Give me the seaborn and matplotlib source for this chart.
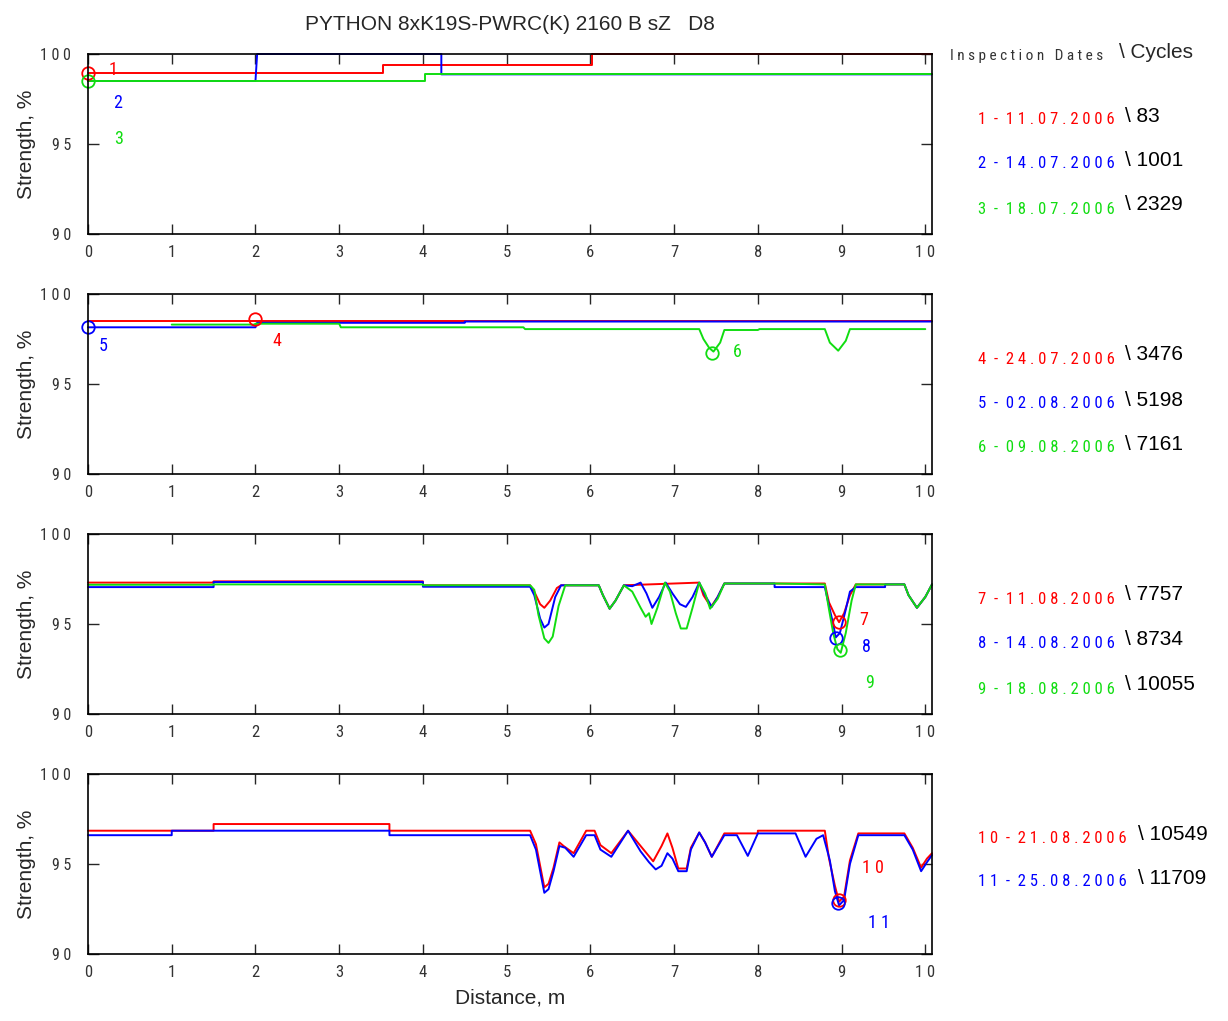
import seaborn as sns
import matplotlib.pyplot as plt
from matplotlib import font_manager

sns.set_style('white')
plt.rcParams['font.family'] = ['Liberation Sans', 'DejaVu Sans']

RED, BLUE, GREEN = '#ff0000', '#0000ff', '#11dd11'

# pick a narrow face for the spaced-out labels, if one is installed
_fonts = font_manager.fontManager.ttflist
_names = {f.name for f in _fonts}
NARROW, STRETCH, SEP = 'Liberation Sans', 'normal', '\u2009'
for cand in ['Liberation Sans Narrow', 'Roboto Condensed', 'Open Sans Condensed', 'Noto Sans Condensed']:
    if cand in _names:
        NARROW, STRETCH, SEP = cand, 'normal', ' '
        break
else:
    if any(f.name == 'DejaVu Sans' and 'condensed' in str(f.stretch) for f in _fonts):
        NARROW, STRETCH, SEP = 'DejaVu Sans', 'condensed', ' '
NARROW_FAM = [NARROW, 'DejaVu Sans']


def spaced(s):
    return SEP.join(s)


# ---- panel 1 ----
p1_red_x = [0, 3.52, 3.52, 6.02, 6.02, 10.08]
p1_red_y = [98.95, 98.95, 99.4, 99.4, 100, 100]
p1_blue_x = [0, 2.0, 2.02, 4.22, 4.22, 10.08]
p1_blue_y = [98.5, 98.5, 100, 100, 98.87, 98.87]
p1_green_x = [0, 4.02, 4.02, 10.08]
p1_green_y = [98.5, 98.5, 98.87, 98.87]

# ---- panel 2 ----
p2_red_x = [0, 10.08]
p2_red_y = [98.5, 98.5]
p2_blue_x = [0, 2.0, 2.02, 4.5, 4.5, 10.08]
p2_blue_y = [98.15, 98.15, 98.4, 98.4, 98.47, 98.47]
p2_green_x = [1.0, 2.0, 2.0, 3.0, 3.02, 5.2, 5.22, 7.3, 7.35, 7.42, 7.47, 7.55, 7.6,
              8.0, 8.02, 8.8, 8.86, 8.96, 9.05, 9.1, 10.0]
p2_green_y = [98.3, 98.3, 98.35, 98.35, 98.15, 98.15, 98.05, 98.05, 97.5, 97.0, 96.8, 97.3, 98.0,
              98.0, 98.05, 98.05, 97.3, 96.85, 97.4, 98.05, 98.05]

# ---- panel 3 ----
p3_red_x = [0, 1.5, 1.5, 4.0, 4.0, 5.28, 5.33, 5.4, 5.45, 5.52, 5.6, 5.65, 6.1, 6.15, 6.23, 6.3, 6.4,
            7.3, 7.35, 7.44, 7.52, 7.6, 8.8, 8.85, 8.92, 8.97, 9.03, 9.1, 9.17, 9.75, 9.8, 9.9, 10.0, 10.08]
p3_red_y = [97.3, 97.3, 97.37, 97.37, 97.15, 97.15, 96.8, 96.1, 95.9, 96.3, 97.0, 97.15, 97.15, 96.6, 95.85, 96.3, 97.15,
            97.3, 96.6, 95.95, 96.5, 97.25, 97.25, 96.2, 95.5, 95.1, 95.6, 96.6, 97.2, 97.2, 96.6, 95.9, 96.5, 97.2]
p3_blue_x = [0, 1.5, 1.5, 4.0, 4.0, 5.28, 5.33, 5.4, 5.45, 5.5, 5.58, 5.65, 6.1, 6.15, 6.23, 6.3, 6.4,
             6.5, 6.6, 6.67, 6.74, 6.82, 6.9, 6.98, 7.07, 7.14, 7.22, 7.3, 7.37, 7.45, 7.52, 7.6, 8.2, 8.2,
             8.8, 8.85, 8.9, 8.93, 8.98, 9.05, 9.1, 9.17, 9.52, 9.52, 9.75, 9.8, 9.9, 10.0, 10.08]
p3_blue_y = [97.05, 97.05, 97.33, 97.33, 97.07, 97.07, 96.6, 95.3, 94.8, 95.0, 96.5, 97.15, 97.15, 96.6, 95.85, 96.3, 97.15,
             97.1, 97.3, 96.7, 95.9, 96.5, 97.3, 96.7, 96.1, 95.95, 96.5, 97.3, 96.6, 95.95, 96.5, 97.25, 97.25, 97.05,
             97.05, 96.0, 95.0, 94.25, 94.5, 95.8, 96.8, 97.05, 97.05, 97.2, 97.2, 96.6, 95.9, 96.5, 97.2]
p3_green_x = [0, 1.5, 1.5, 4.0, 4.0, 5.28, 5.33, 5.38, 5.45, 5.5, 5.55, 5.62, 5.7, 6.1, 6.15, 6.23, 6.3, 6.4,
              6.5, 6.6, 6.66, 6.7, 6.73, 6.8, 6.89, 6.95, 7.02, 7.08, 7.15, 7.22, 7.3, 7.37, 7.43, 7.52, 7.6,
              8.2, 8.8, 8.85, 8.9, 8.95, 8.99, 9.05, 9.12, 9.17, 9.75, 9.8, 9.9, 10.0, 10.08]
p3_green_y = [97.18, 97.18, 97.2, 97.2, 97.15, 97.15, 96.9, 95.5, 94.2, 93.95, 94.3, 96.0, 97.15, 97.15, 96.6, 95.85, 96.3, 97.15,
              96.8, 95.9, 95.4, 95.6, 95.0, 95.9, 97.3, 96.8, 95.6, 94.75, 94.75, 95.9, 97.3, 96.7, 95.85, 96.4, 97.25,
              97.25, 97.2, 95.8, 94.5, 93.6, 93.4, 94.5, 96.3, 97.2, 97.2, 96.6, 95.9, 96.5, 97.2]

# ---- panel 4 ----
p4_red_x = [0, 1.5, 1.5, 3.6, 3.6, 5.28, 5.35, 5.45, 5.5, 5.56, 5.63, 5.68, 5.8, 5.95, 6.05, 6.12, 6.25,
            6.45, 6.6, 6.75, 6.85, 6.92, 6.98, 7.05, 7.15, 7.2, 7.3, 7.37, 7.45, 7.6, 8.0, 8.0, 8.8, 8.85,
            8.92, 8.97, 9.03, 9.1, 9.2, 9.75, 9.85, 9.95, 10.02, 10.08]
p4_red_y = [96.85, 96.85, 97.22, 97.22, 96.85, 96.85, 96.1, 93.7, 93.9, 94.8, 96.2, 96.0, 95.6, 96.85, 96.85, 96.05, 95.6,
            96.85, 96.0, 95.15, 96.0, 96.7, 95.9, 94.75, 94.75, 95.9, 96.75, 96.2, 95.4, 96.7, 96.7, 96.85, 96.85, 95.3,
            93.8, 92.9, 93.2, 95.2, 96.7, 96.7, 95.9, 94.8, 95.3, 95.6]
p4_blue_x = [0, 1.0, 1.0, 3.6, 3.6, 5.28, 5.35, 5.45, 5.5, 5.56, 5.63, 5.7, 5.8, 5.95, 6.05, 6.12, 6.25,
             6.45, 6.6, 6.7, 6.78, 6.85, 6.92, 6.98, 7.05, 7.15, 7.2, 7.3, 7.37, 7.45, 7.6, 7.75, 7.88, 8.0,
             8.45, 8.57, 8.7, 8.78, 8.86, 8.92, 8.97, 9.03, 9.1, 9.2, 9.75, 9.85, 9.95, 10.02, 10.08]
p4_blue_y = [96.6, 96.6, 96.85, 96.85, 96.6, 96.6, 95.8, 93.4, 93.6, 94.6, 96.0, 95.9, 95.4, 96.6, 96.6, 95.8, 95.4,
             96.85, 95.7, 95.1, 94.7, 94.9, 95.6, 95.3, 94.6, 94.6, 95.8, 96.75, 96.2, 95.4, 96.6, 96.6, 95.45, 96.7,
             96.7, 95.4, 96.4, 96.6, 95.2, 93.5, 92.7, 93.0, 95.0, 96.6, 96.6, 95.8, 94.6, 95.1, 95.5]

# circle markers and number labels per panel
circles = [
    [(0, 98.95, RED), (0, 98.5, GREEN)],
    [(2.0, 98.6, RED), (0, 98.15, BLUE), (7.45, 96.75, GREEN)],
    [(8.97, 95.1, RED), (8.93, 94.25, BLUE), (8.98, 93.55, GREEN)],
    [(8.97, 93.0, RED), (8.96, 92.85, BLUE)],
]
numbers = [
    [(0.3, 99.1, '1', RED), (0.35, 97.3, '2', BLUE), (0.37, 95.3, '3', GREEN)],
    [(0.18, 97.1, '5', BLUE), (2.25, 97.4, '4', RED), (7.75, 96.8, '6', GREEN)],
    [(9.27, 95.2, '7', RED), (9.3, 93.7, '8', BLUE), (9.33, 91.7, '9', GREEN)],
    [(9.37, 94.8, '10', RED), (9.45, 91.7, '11', BLUE)],
]

insp_ids = [['1', '2', '3'], ['4', '5', '6'], ['7', '8', '9'], ['10', '11']]
insp_dates = [['11.07.2006', '14.07.2006', '18.07.2006'],
              ['24.07.2006', '02.08.2006', '09.08.2006'],
              ['11.08.2006', '14.08.2006', '18.08.2006'],
              ['21.08.2006', '25.08.2006']]
cycles = [['83', '1001', '2329'], ['3476', '5198', '7161'], ['7757', '8734', '10055'], ['10549', '11709']]
date_colors = [[RED, BLUE, GREEN], [RED, BLUE, GREEN], [RED, BLUE, GREEN], [RED, BLUE]]
date_rows_px = [[120, 164, 209], [359, 404, 448], [599, 643, 689], [838, 882]]

panels = [
    [(p1_red_x, p1_red_y, RED), (p1_blue_x, p1_blue_y, BLUE), (p1_green_x, p1_green_y, GREEN)],
    [(p2_red_x, p2_red_y, RED), (p2_blue_x, p2_blue_y, BLUE), (p2_green_x, p2_green_y, GREEN)],
    [(p3_red_x, p3_red_y, RED), (p3_blue_x, p3_blue_y, BLUE), (p3_green_x, p3_green_y, GREEN)],
    [(p4_red_x, p4_red_y, RED), (p4_blue_x, p4_blue_y, BLUE)],
]

W, H = 1228, 1021
fig = plt.figure(figsize=(W / 100, H / 100), dpi=100)
tops = [54, 294, 534, 774]
nfont = dict(family=NARROW_FAM, fontstretch=STRETCH)

for i, series in enumerate(panels):
    top = tops[i]
    ax = fig.add_axes([88 / W, 1 - (top + 180) / H, (932 - 88) / W, 180 / H])
    for xs, ys, c in series:
        sns.lineplot(x=xs, y=ys, ax=ax, color=c, lw=1.4, estimator=None, sort=False, clip_on=False)
    for cx, cy, c in circles[i]:
        ax.plot(cx, cy, 'o', mfc='none', mec=c, ms=9, mew=1.3, clip_on=False)
    for tx, ty, s, c in numbers[i]:
        ax.text(tx, ty, spaced(s), color=c, fontsize=13, ha='center', va='center', **nfont)
    ax.set_xlim(0, 10.08)
    ax.set_ylim(90, 100)
    ax.set_xticks(range(11))
    ax.set_xticklabels([spaced(str(k)) for k in range(11)], fontsize=12, color='#333333', **nfont)
    ax.set_yticks([90, 95, 100])
    ax.set_yticklabels([spaced('90'), spaced('95'), spaced('100')], fontsize=11.5, color='#333333', **nfont)
    ax.tick_params(axis='x', direction='in', length=7, width=1, top=True, bottom=True, pad=8)
    ax.tick_params(axis='y', direction='in', length=8, width=1, left=True, right=True, pad=12)
    for sp in ax.spines.values():
        sp.set_color('black')
        sp.set_linewidth(1.2)
    ax.set_ylabel('Strength, %', fontsize=15)
    ax.yaxis.set_label_coords((36 - 88) / 844, 0.5)

    x_cyc = 1125 if i < 3 else 1138
    for k, d, cyc, c, ypx in zip(insp_ids[i], insp_dates[i], cycles[i], date_colors[i], date_rows_px[i]):
        label = spaced(k) + SEP * 2 + '-' + SEP * 2 + spaced(d)
        fig.text(978 / W, 1 - ypx / H, label, color=c, fontsize=12, va='center', **nfont)
        fig.text(x_cyc / W, 1 - (ypx - 4) / H, '\\ ' + cyc, color='black', fontsize=15, va='center')

ax.set_xlabel('Distance, m', fontsize=15, labelpad=6)

fig.text(510 / W, 1 - 25 / H, 'PYTHON 8xK19S-PWRC(K) 2160 B sZ   D8', fontsize=15, ha='center', va='center')
fig.text(950 / W, 1 - 56 / H, spaced('Inspection') + SEP * 3 + spaced('Dates'), fontsize=11,
         color='#333333', va='center', **nfont)
fig.text(1119 / W, 1 - 52 / H, '\\ Cycles', fontsize=15, va='center')

fig.savefig('out.png', dpi=100)
